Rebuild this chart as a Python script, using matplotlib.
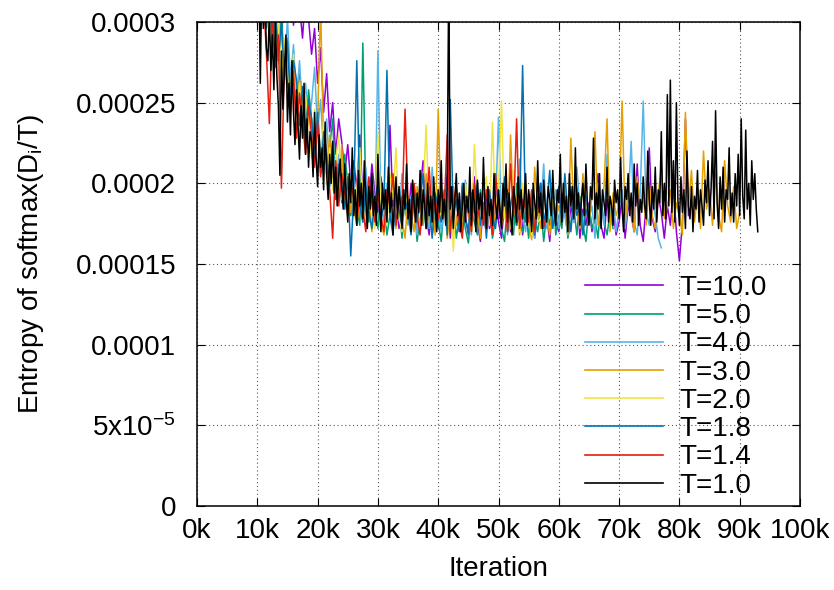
#!/usr/bin/env python3
import matplotlib
matplotlib.use("Agg")
import matplotlib.pyplot as plt
import numpy as np

plt.rcParams["font.family"] = ["Liberation Sans", "DejaVu Sans"]
plt.rcParams["mathtext.default"] = "regular"

# entropy values in units of 1e-6, one entry per logging step
UNIT = 1e-6

labels = ["T=10.0", "T=5.0", "T=4.0", "T=3.0", "T=2.0", "T=1.8", "T=1.4", "T=1.0"]
colors = ["#9400d3", "#009e73", "#56b4e9", "#e69f00", "#f0e442", "#0072b2", "#e51e10", "#000000"]
starts = [10000, 10000, 10000, 10000, 10000, 10000, 10000, 9000]
steps = [500, 500, 500, 500, 500, 500, 500, 250]

t10 = [345, 372, 328, 356, 318, 362, 330, 304, 348, 322,
       312, 336, 298, 324, 310, 290, 318, 302, 280, 296,
       262, 284, 244, 268, 232, 250, 218, 240, 226, 206,
       224, 200, 214, 196, 230, 190, 206, 186, 212, 194,
       182, 204, 190, 176, 236, 186, 198, 172, 192, 184,
       176, 200, 188, 170, 196, 214, 180, 168, 190, 182,
       172, 196, 184, 206, 166, 188, 178, 170, 198, 180,
       168, 190, 204, 176, 164, 186, 192, 172, 180, 200,
       176, 166, 188, 196, 170, 182, 174, 204, 168, 186,
       178, 192, 166, 184, 200, 172, 180, 164, 188, 176,
       170, 194, 182, 168, 186, 176, 198, 166, 184, 174,
       188, 170, 180, 206, 174, 166, 190, 178, 184, 168,
       176, 192, 166, 186, 180, 170, 212, 174, 164, 188,
       222, 178, 170, 192, 182, 166, 186, 174, 198, 170,
       152, 176, 240, 180]

t5 = [330, 352, 306, 338, 292, 318, 300, 276, 310, 264,
      290, 258, 282, 246, 268, 252, 232, 258, 240, 224,
      246, 214, 234, 206, 222, 240, 196, 212, 188, 218,
      200, 180, 196, 184, 174, 287, 190, 176, 204, 182,
      172, 194, 186, 168, 180, 200, 174, 188, 166, 196,
      182, 170, 190, 164, 178, 186, 172, 198, 168, 180,
      176, 164, 188, 182, 170, 194, 166, 178, 186, 172,
      163, 184, 176, 168, 196, 180, 170, 188, 166, 178,
      186, 172, 164, 190, 178, 168, 200, 176, 170, 184,
      166, 194, 178, 170, 186, 164, 182, 174, 196, 168,
      180, 172, 190, 166, 176, 184, 168, 192, 174, 164,
      186, 172, 178, 166, 190, 176, 168, 182, 172]

t4 = [356, 318, 342, 300, 334, 312, 288, 320, 296, 270,
      302, 264, 286, 252, 276, 244, 262, 236, 250, 272,
      232, 252, 218, 240, 206, 226, 196, 218, 192, 210,
      186, 206, 194, 180, 198, 176, 210, 184, 192, 174,
      282, 188, 176, 200, 182, 170, 194, 178, 206, 184,
      174, 192, 186, 168, 200, 180, 188, 172, 210, 178,
      190, 170, 184, 198, 176, 166, 192, 182, 174, 202,
      180, 168, 194, 186, 172, 206, 178, 190, 170, 184,
      241, 176, 192, 168, 186, 198, 174, 215, 180, 170,
      190, 176, 166, 200, 184, 212, 172, 188, 178, 196,
      172, 190, 180, 168, 198, 176, 210, 184, 170, 192,
      178, 186, 166, 200, 188, 174, 218, 180, 192, 170,
      184, 196, 172, 188, 226, 176, 168, 194, 251, 182,
      174, 190, 180, 166, 160]

t3 = [336, 312, 344, 296, 318, 286, 304, 274, 296, 262,
      284, 256, 272, 240, 264, 252, 230, 250, 236, 222,
      240, 310, 222, 206, 230, 198, 216, 190, 224, 184,
      206, 182, 196, 174, 190, 202, 178, 194, 170, 186,
      196, 176, 168, 190, 184, 200, 172, 186, 178, 166,
      192, 180, 170, 198, 186, 174, 206, 176, 188, 168,
      246, 178, 190, 166, 184, 198, 174, 188, 170, 196,
      180, 170, 194, 184, 166, 200, 178, 188, 172, 182,
      196, 174, 186, 170, 230, 180, 192, 168, 184, 200,
      176, 165, 210, 186, 172, 196, 180, 168, 190, 178,
      186, 174, 198, 168, 228, 180, 190, 172, 206, 184,
      176, 192, 232, 174, 186, 198, 240, 170, 194, 180,
      186, 251, 176, 196, 182, 170, 204, 184, 192, 174,
      200, 180, 172, 194, 210, 178, 186, 196, 172, 188,
      180, 168, 244, 186, 208, 176, 192, 172, 220, 184,
      196, 174, 206, 180, 170, 214, 186, 176, 198, 172,
      182]

t2 = [322, 346, 302, 330, 288, 314, 278, 300, 262, 290,
      270, 248, 280, 236, 262, 228, 254, 240, 216, 246,
      226, 212, 238, 200, 222, 196, 214, 230, 190, 206,
      186, 204, 178, 196, 222, 184, 176, 200, 188, 172,
      232, 184, 196, 174, 206, 190, 222, 178, 170, 194,
      184, 176, 200, 188, 168, 194, 236, 180, 172, 190,
      198, 178, 186, 170, 204, 158, 192, 182, 176, 200,
      182, 170, 224, 188, 176, 196, 204, 174, 238, 184,
      196, 251, 178, 190, 172, 208, 186, 170, 200, 180,
      190, 168, 184, 176, 178]

t18 = [348, 320, 336, 296, 326, 282, 310, 276, 300, 266,
       288, 250, 276, 264, 236, 260, 228, 252, 240, 216,
       244, 206, 232, 218, 198, 226, 190, 212, 200, 184,
       204, 155, 194, 276, 186, 176, 198, 182, 172, 190,
       200, 178, 186, 270, 180, 168, 196, 184, 174, 190,
       182, 168, 198, 176, 190, 206, 172, 186, 166, 194,
       184, 176, 196, 168, 252, 180, 190, 172, 200, 178,
       170, 194, 182, 200, 174, 188, 166, 196, 180, 172,
       190, 178, 204, 170, 186, 196, 174, 182, 273, 176,
       194, 182, 168, 190, 200, 176, 186, 208, 172, 184,
       198, 174, 206, 182, 170, 192, 180, 188, 168, 184,
       176]

t14 = [334, 298, 316, 282, 237, 306, 272, 292, 197, 276,
       262, 244, 270, 228, 256, 238, 218, 248, 230, 210,
       238, 204, 224, 212, 196, 166, 214, 186, 206, 194,
       180, 202, 190, 174, 198, 184, 170, 204, 188, 176,
       194, 180, 170, 196, 186, 206, 174, 190, 182, 246,
       188, 172, 200, 180, 168, 194, 184, 210, 176, 190,
       178, 196, 184, 230, 170, 188, 198, 176, 166, 192,
       184, 170, 200, 178, 190, 174, 196, 182, 168, 206,
       186, 176, 194, 170, 212, 180, 240, 172, 190, 184,
       176, 196, 170, 188, 182, 174, 180]

t1 = [340, 365, 322, 350, 310, 338, 262, 330, 296, 318, 284, 276, 305, 270, 292, 258, 300, 266, 248, 205,
      282, 246, 270, 292, 238, 262, 230, 276, 244, 224, 258, 236, 215, 248, 228, 262, 218, 240, 210, 232,
      226, 204, 244, 216, 198, 230, 210, 222, 196, 238, 206, 190, 218, 200, 226, 194, 210, 186, 204, 215,
      198, 184, 212, 191, 176, 206, 188, 222, 180, 196, 174, 208, 186, 200, 178, 214, 190, 172, 198, 184,
      206, 180, 192, 174, 218, 188, 170, 200, 184, 196, 176, 210, 182, 194, 168, 190, 204, 178, 198, 186,
      172, 196, 184, 212, 178, 190, 170, 202, 188, 176, 194, 182, 208, 174, 196, 186, 172, 200, 180, 192,
      176, 204, 186, 170, 196, 182, 214, 178, 190, 174, 200, 330, 184, 198, 172, 188, 206, 180, 194, 170,
      186, 200, 176, 192, 182, 210, 174, 196, 188, 170, 202, 184, 194, 178, 216, 186, 172, 198, 180, 190,
      174, 206, 188, 178, 196, 182, 172, 200, 186, 212, 176, 194, 180, 168, 198, 190, 176, 204, 184, 196,
      178, 190, 206, 174, 196, 184, 170, 200, 188, 178, 214, 182, 194, 172, 202, 186, 176, 198, 190, 180,
      208, 184, 174, 196, 188, 218, 176, 200, 182, 192, 170, 206, 186, 198, 178, 222, 184, 194, 174, 190,
      200, 180, 212, 186, 174, 198, 190, 228, 178, 194, 184, 206, 172, 196, 188, 180, 210, 176, 192, 186,
      174, 202, 188, 196, 178, 216, 184, 170, 198, 190, 206, 180, 194, 176, 212, 186, 200, 174, 190, 182,
      204, 186, 178, 220, 190, 174, 198, 184, 210, 176, 196, 188, 232, 180, 200, 178, 255, 186, 264, 182,
      214, 176, 250, 190, 174, 204, 182, 196, 172, 220, 186, 178, 198, 170, 192, 184, 208, 176, 196, 186,
      174, 202, 188, 214, 180, 196, 226, 178, 245, 188, 172, 204, 184, 210, 176, 196, 190, 222, 180, 194,
      176, 206, 186, 218, 180, 240, 192, 178, 233, 184, 200, 174, 214, 190, 206, 184, 170]

series = [t10, t5, t4, t3, t2, t18, t14, t1]

xticks = np.arange(0, 100001, 10000)
xticklabels = ["%dk" % (v // 1000) for v in xticks]
yticks = [0, 0.00005, 0.0001, 0.00015, 0.0002, 0.00025, 0.0003]
yticklabels = ["0", "5x10$^{-5}$", "0.0001", "0.00015", "0.0002", "0.00025", "0.0003"]

fig = plt.figure(figsize=(8.34, 5.90), dpi=100)
ax = fig.add_axes([197 / 834, 84 / 590, 603 / 834, 484 / 590])

for vals, start, step, color, label in zip(series, starts, steps, colors, labels):
    y = np.array(vals) * UNIT
    x = start + step * np.arange(len(y))
    ax.plot(x, y, color=color, linewidth=1.1, label=label)

ax.set_xlim(0, 100000)
ax.set_ylim(0, 0.0003)
ax.set_xticks(xticks)
ax.set_xticklabels(xticklabels)
ax.set_yticks(yticks)
ax.set_yticklabels(yticklabels)
ax.tick_params(axis="both", direction="in", length=6, width=0.8,
               top=True, right=True, labelsize=20)
ax.tick_params(axis="x", pad=9)
ax.tick_params(axis="y", pad=15)
ax.grid(True, color="#555555", linestyle=(0, (1, 2.5)), linewidth=0.8)
for s in ax.spines.values():
    s.set_linewidth(1.1)

ax.set_xlabel("Iteration", fontsize=20, labelpad=8)
ax.set_ylabel("Entropy of softmax(D$_i$/T)", fontsize=20, labelpad=21)

leg = ax.legend(loc="upper left", bbox_to_anchor=(585 / 834, 1 - 275 / 590),
                bbox_transform=fig.transFigure, frameon=False, fontsize=20,
                handlelength=2.8, handletextpad=0.6, labelspacing=0.08,
                borderpad=0, borderaxespad=0)
for line in leg.get_lines():
    line.set_linewidth(1.2)

fig.savefig("out.png", dpi=100)
